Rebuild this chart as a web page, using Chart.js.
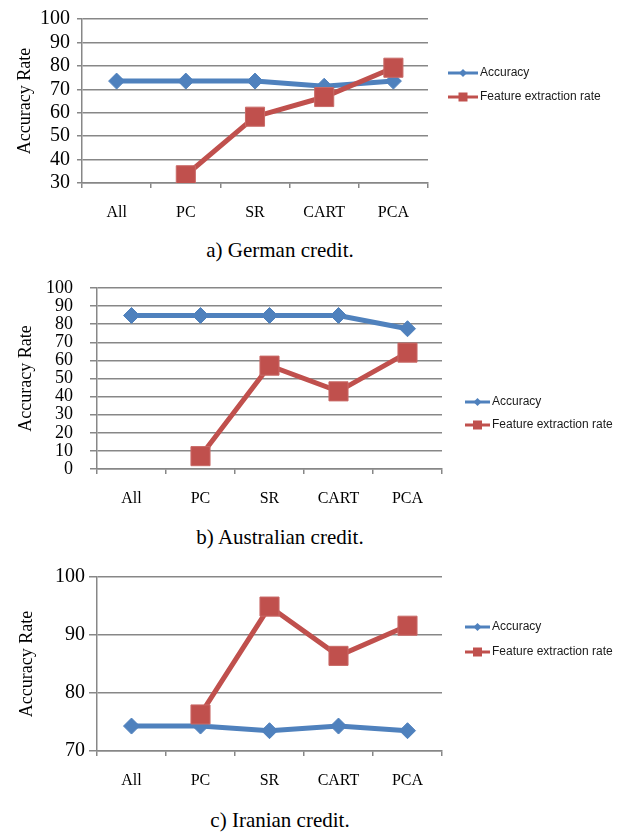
<!DOCTYPE html>
<html>
<head>
<meta charset="utf-8">
<script src="https://cdn.jsdelivr.net/npm/chart.js@4.4.0/dist/chart.umd.min.js"></script>
<style>
  body { margin: 0; background: #fff; width: 622px; height: 836px; position: relative; overflow: hidden; }
  canvas { position: absolute; left: 0; }
  .caption { position: absolute; left: 0; width: 560px; text-align: center; font-family: 'Liberation Serif', serif; font-size: 21px; line-height: 24px; color: #000; }
</style>
</head>
<body>
<canvas id="german" width="622" height="235" style="top:0"></canvas>
<div class="caption" style="top:238px">a) German credit.</div>
<canvas id="australian" width="622" height="251" style="top:270px"></canvas>
<div class="caption" style="top:525px">b) Australian credit.</div>
<canvas id="iranian" width="622" height="243" style="top:560px"></canvas>
<div class="caption" style="top:808px">c) Iranian credit.</div>

<script>
const categories = ['All', 'PC', 'SR', 'CART', 'PCA'];

const germanAccuracy = [73.5, 73.5, 73.5, 71.3, 73.5];
const germanFeature = [null, 33.3, 58.3, 66.7, 79.2];

const australianAccuracy = [84.8, 84.8, 84.8, 84.8, 77.5];
const australianFeature = [null, 7.1, 57.1, 42.9, 64.3];

const iranianAccuracy = [74.3, 74.3, 73.5, 74.3, 73.5];
const iranianFeature = [null, 76.3, 94.9, 86.4, 91.6];

const BLUE = '#4F81BD';
const RED = '#C0504D';
const GRID = '#878787';
const SERIF = 'Liberation Serif';

// legend drawn beside the plot, excel style (line with marker in the middle)
const sideLegend = {
    id: 'sideLegend',
    afterDraw(chart, args, opts) {
        const ctx = chart.ctx;
        ctx.save();
        chart.data.datasets.forEach((ds, i) => {
            const y = opts.rows[i];
            const x0 = opts.x;
            const x1 = opts.x + opts.lineLen;
            const cx = (x0 + x1) / 2;
            ctx.strokeStyle = ds.borderColor;
            ctx.fillStyle = ds.borderColor;
            ctx.lineWidth = 3;
            ctx.beginPath();
            ctx.moveTo(x0, y);
            ctx.lineTo(x1, y);
            ctx.stroke();
            ctx.beginPath();
            if (ds.pointStyle === 'rectRot') {
                ctx.moveTo(cx, y - 4);
                ctx.lineTo(cx + 4, y);
                ctx.lineTo(cx, y + 4);
                ctx.lineTo(cx - 4, y);
                ctx.closePath();
            } else {
                ctx.rect(cx - 4.5, y - 4.5, 9, 9);
            }
            ctx.fill();
            ctx.fillStyle = '#1a1a1a';
            ctx.font = '12px "Liberation Sans"';
            ctx.textBaseline = 'middle';
            ctx.fillText(ds.label, x1 + 2, y);
        });
        ctx.restore();
    }
};

function buildChart(id, accuracy, feature, yMin, yMax, look) {
    return new Chart(document.getElementById(id), {
        type: 'line',
        data: {
            labels: categories,
            datasets: [
                {
                    label: 'Accuracy',
                    data: accuracy,
                    order: 2,
                    borderColor: BLUE,
                    backgroundColor: BLUE,
                    borderWidth: 5,
                    tension: 0,
                    pointStyle: 'rectRot',
                    pointRadius: 8,
                    pointBorderWidth: 1,
                    pointBackgroundColor: BLUE,
                    pointBorderColor: BLUE
                },
                {
                    label: 'Feature extraction rate',
                    data: feature,
                    order: 1,
                    borderColor: RED,
                    backgroundColor: RED,
                    borderWidth: 5,
                    tension: 0,
                    pointStyle: 'rect',
                    pointRadius: 13.5,
                    pointBorderWidth: 1,
                    pointBackgroundColor: RED,
                    pointBorderColor: '#C96A67'
                }
            ]
        },
        options: {
            responsive: false,
            animation: false,
            layout: {
                padding: { left: 0, right: 622 - look.right, top: look.top, bottom: 0 }
            },
            plugins: {
                legend: { display: false },
                tooltip: { enabled: false },
                sideLegend: look.legend
            },
            scales: {
                x: {
                    type: 'category',
                    offset: true,
                    grid: {
                        offset: true,
                        drawOnChartArea: false,
                        drawTicks: true,
                        tickLength: 5,
                        color: GRID,
                        lineWidth: 1.5
                    },
                    border: { color: GRID, width: 1.5 },
                    ticks: {
                        font: { family: SERIF, size: 16 },
                        color: '#000',
                        padding: 15
                    },
                    afterFit(scale) { scale.height = 52; }
                },
                y: {
                    min: yMin,
                    max: yMax,
                    ticks: {
                        stepSize: 10,
                        autoSkip: false,
                        font: { family: SERIF, size: look.tickSize },
                        color: '#000',
                        padding: look.tickPad
                    },
                    grid: {
                        color: GRID,
                        lineWidth: 1.5,
                        tickLength: look.tickLen
                    },
                    border: { color: GRID, width: 1.5 },
                    title: {
                        display: true,
                        text: 'Accuracy Rate',
                        font: { family: SERIF, size: 18 },
                        color: '#000',
                        padding: { top: look.titlePad, bottom: 0 }
                    },
                    afterFit(scale) {
                        scale.width = look.left;
                        // layout padding alone sets the plot top
                        scale.paddingTop = 0;
                        scale.paddingBottom = 0;
                    }
                }
            }
        },
        plugins: [sideLegend]
    });
}

buildChart('german', germanAccuracy, germanFeature, 30, 100, {
    left: 82, right: 428, top: 19,
    tickSize: 20, tickPad: 7, tickLen: 5, titlePad: 14,
    legend: { x: 448, lineLen: 30, rows: [73, 97] }
});

buildChart('australian', australianAccuracy, australianFeature, 0, 100, {
    left: 97, right: 442, top: 18,
    tickSize: 18, tickPad: 17, tickLen: 7, titlePad: 15,
    legend: { x: 465, lineLen: 25, rows: [132, 155] }
});

buildChart('iranian', iranianAccuracy, iranianFeature, 70, 100, {
    left: 97, right: 442, top: 17,
    tickSize: 20, tickPad: 4, tickLen: 8, titlePad: 16,
    legend: { x: 465, lineLen: 25, rows: [67, 92] }
});
</script>
</body>
</html>
